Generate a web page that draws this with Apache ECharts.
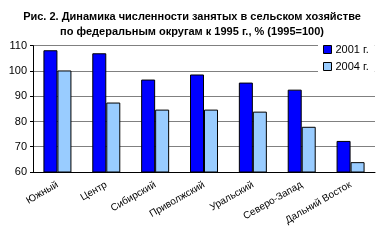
<!DOCTYPE html>
<html><head><meta charset="utf-8">
<script src="https://cdn.jsdelivr.net/npm/echarts@6/dist/echarts.min.js"></script>
<style>html,body{margin:0;padding:0;background:#fff}#c{width:384px;height:240px}</style>
</head><body><div id="c"></div>
<script>
var categories = ['Южный','Центр','Сибирский','Приволжский','Уральский','Северо-Запад','Дальний Восток'];
var values2001 = [108.2, 107.0, 96.6, 98.6, 95.4, 92.6, 72.3];
var values2004 = [100.2, 87.5, 84.7, 84.7, 83.9, 77.9, 63.9];
var seriesNames = ['2001 г.', '2004 г.'];
var titleLines = ['Рис. 2. Динамика численности занятых в сельском хозяйстве', 'по федеральным округам к 1995 г., % (1995=100)'];

var chart = echarts.init(document.getElementById('c'), null, {renderer:'canvas'});
var font = 'Liberation Sans, Arial, sans-serif';
chart.setOption({
  animation: false,
  backgroundColor: '#fff',
  title: {
    text: titleLines.join('\n'),
    left: 'center', top: 4,
    textStyle: {fontFamily: font, fontSize: 11, fontWeight: 'bold', color: '#000', lineHeight: 15}
  },
  legend: {
    orient: 'vertical', left: 318, top: 42, z: 10,
    backgroundColor: '#fff', padding: [2, 6, 2, 5],
    icon: 'rect', itemWidth: 8, itemHeight: 8, itemGap: 6,
    itemStyle: {borderColor: '#000', borderWidth: 1},
    textStyle: {fontFamily: font, fontSize: 11, color: '#000', padding: [0,0,0,-1]},
    data: seriesNames
  },
  grid: {left: 33, right: 9, top: 45.7, bottom: 68, containLabel: false},
  xAxis: {
    type: 'category', data: categories,
    axisLine: {lineStyle: {color: '#000', width: 1}},
    axisTick: {show: false},
    axisLabel: {rotate: 30, fontFamily: font, fontSize: 10, color: '#000', margin: 12, interval: 0}
  },
  yAxis: {
    type: 'value', min: 60, max: 110, interval: 10,
    axisLine: {show: true, lineStyle: {color: '#000', width: 1}},
    axisTick: {show: true, length: 3, lineStyle: {color: '#000'}},
    axisLabel: {fontFamily: font, fontSize: 11, color: '#000', margin: 6},
    splitLine: {lineStyle: {color: '#808080', width: 1}}
  },
  series: [
    {name: seriesNames[0], type: 'bar', data: values2001, barGap: '0%', barWidth: 14,
     itemStyle: {color: '#0000FF', borderColor: '#000', borderWidth: 1}},
    {name: seriesNames[1], type: 'bar', data: values2004, barGap: '0%', barWidth: 14,
     itemStyle: {color: '#99CCFF', borderColor: '#000', borderWidth: 1}}
  ]
});
</script></body></html>
